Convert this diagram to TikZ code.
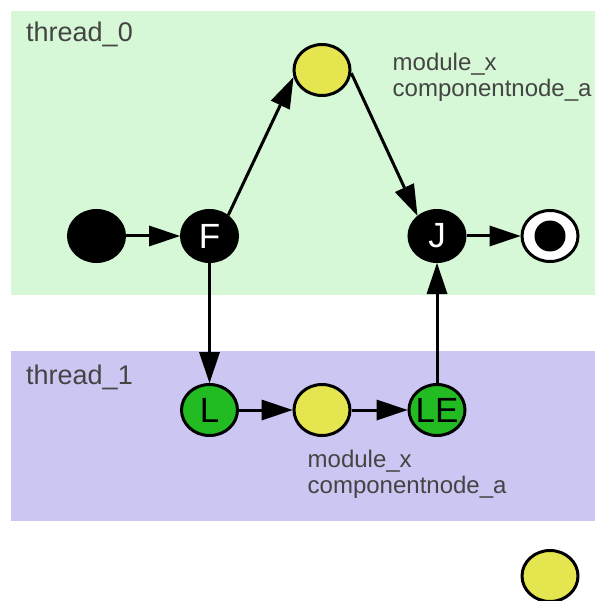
\documentclass[tikz,border=0pt]{standalone}
\usepackage{fontspec}
\setmainfont{Liberation Sans}
\usetikzlibrary{arrows.meta,shapes.geometric}
\definecolor{bggreen}{RGB}{214,248,214}
\definecolor{bgpurple}{RGB}{204,198,242}
\definecolor{nodeyellow}{RGB}{229,229,80}
\definecolor{nodegreen}{RGB}{34,187,34}
\definecolor{labelgray}{RGB}{68,68,68}
\begin{document}
\begin{tikzpicture}[x=1pt,y=-1pt,
  st/.style={ellipse,draw=black,line width=3pt,inner sep=0pt,minimum width=56pt,minimum height=51pt},
  blk/.style={st,fill=black,text=white,font=\fontsize{35}{35}\selectfont},
  grn/.style={st,fill=nodegreen,text=black,font=\fontsize{35}{35}\selectfont},
  yel/.style={st,fill=nodeyellow},
  edge/.style={line width=3pt,-{Triangle[length=31pt 0 0,width=21pt 0 0,line width=0pt]}},
  lbl/.style={text=labelgray,font=\fontsize{24}{26}\selectfont,align=left,inner sep=0pt,anchor=north west},
  ttl/.style={text=labelgray,font=\fontsize{27}{27}\selectfont,inner sep=0pt,anchor=base west}]
\useasboundingbox (0,0) rectangle (595,601);
\fill[bggreen] (11,11) rectangle (595,295);
\fill[bgpurple] (11,351) rectangle (595,521);
\node[ttl] (t0) at (26,42) {thread\_0};
\node[ttl] (t1) at (26,384) {thread\_1};
\node[lbl] (m0) at (392.5,53) {module\_x\\componentnode\_a};
\node[lbl] (m1) at (307.5,450) {module\_x\\componentnode\_a};
\node[blk] (s) at (96.5,236) {};
\node[blk] (F) at (209.5,236) {\makebox[0pt]{F}};
\node[yel] (y0) at (322,70) {};
\node[blk] (J) at (437,236) {\makebox[0pt]{J}};
\node[st,fill=white] (e) at (550,236) {};
\node[circle,fill=black,minimum size=31pt,inner sep=0pt] (ei) at (e.center) {};
\node[grn] (L) at (209.5,410) {\makebox[0pt]{L}};
\node[yel] (y1) at (322,410) {};
\node[grn] (LE) at (437,410) {\makebox[0pt]{LE}};
\node[yel] (y2) at (550,576) {};
\draw[edge] (s) -- (F);
\draw[edge] (F.48) -- (y0.194);
\draw[edge] (y0.-6) -- (J.134);
\draw[edge] (J) -- (e);
\draw[edge] (F) -- (L);
\draw[edge] (L) -- (y1);
\draw[edge] (y1) -- (LE);
\draw[edge] (LE) -- (J);
\end{tikzpicture}
\end{document}
